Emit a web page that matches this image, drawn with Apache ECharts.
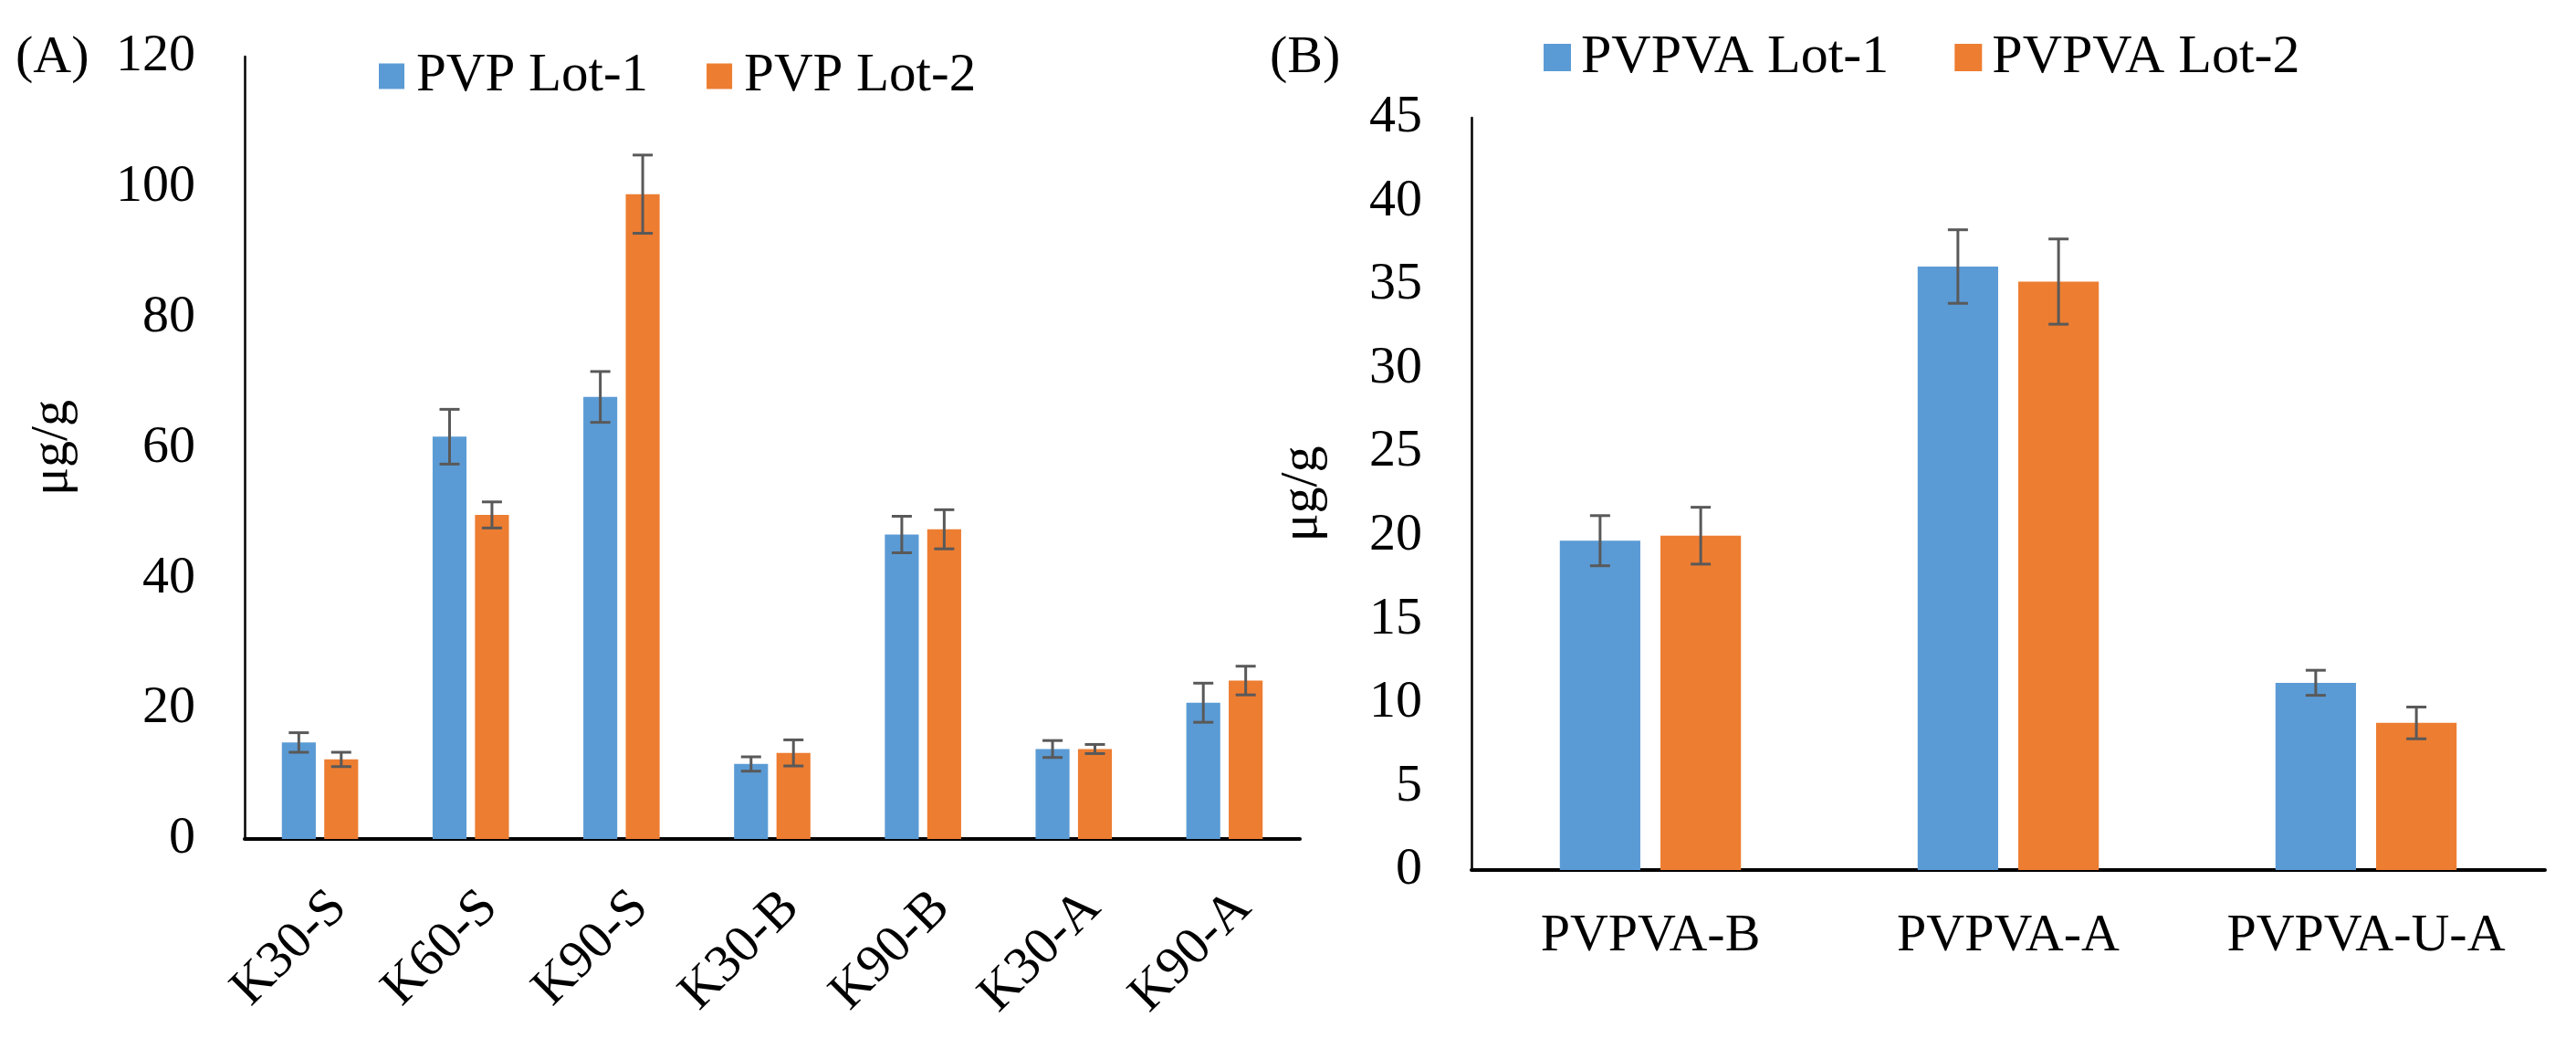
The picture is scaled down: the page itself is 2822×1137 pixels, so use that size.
<!DOCTYPE html>
<html>
<head>
<meta charset="utf-8">
<script src="https://cdn.jsdelivr.net/npm/echarts@6/dist/echarts.min.js"></script>
<style>
  html, body { margin: 0; padding: 0; background: #fff; }
  #chart { width: 2822px; height: 1137px; }
</style>
</head>
<body>
<div id="chart"></div>
<script>
// panel A data (PVP)
var categoriesA = ['K30-S', 'K60-S', 'K90-S', 'K30-B', 'K90-B', 'K30-A', 'K90-A'];
var lot1A = [14.8, 61.7, 67.8, 11.5, 46.7, 13.8, 20.9];
var lot2A = [12.2, 49.7, 98.9, 13.2, 47.5, 13.8, 24.3];
var err1A = [1.5, 4.2, 3.9, 1.1, 2.8, 1.3, 3.0];
var err2A = [1.1, 2.0, 6.0, 2.0, 3.0, 0.7, 2.2];

// panel B data (PVPVA)
var categoriesB = ['PVPVA-B', 'PVPVA-A', 'PVPVA-U-A'];
var lot1B = [19.7, 36.1, 11.2];
var lot2B = [20.0, 35.2, 8.8];
var err1B = [1.5, 2.2, 0.75];
var err2B = [1.7, 2.55, 0.95];

var BLUE = '#5B9BD5';
var ORANGE = '#ED7D31';
var FONT = '"Liberation Serif", "Times New Roman", serif';
var BAR_W = 0.225;   // fraction of category band
var BAR_GAP = 0.25;  // fraction of bar width

// error bar drawn through the axes, shifted to its bar (side = -1 / +1)
function errorSeries(name, axisIdx, values, errs, side) {
    var data = values.map(function (v, i) { return [i, v - errs[i], v + errs[i]]; });
    return {
        name: name,
        type: 'custom',
        xAxisIndex: axisIdx,
        yAxisIndex: axisIdx,
        z: 10,
        silent: true,
        renderItem: function (params, api) {
            var band = api.size([1, 0])[0];
            var bw = band * BAR_W;
            var shift = side * (bw + bw * BAR_GAP) / 2;
            var lo = api.coord([api.value(0), api.value(1)]);
            var hi = api.coord([api.value(0), api.value(2)]);
            var x = lo[0] + shift;
            var cap = 11;
            var st = { stroke: '#595959', lineWidth: 3 };
            return {
                type: 'group',
                children: [
                    { type: 'line', shape: { x1: x, y1: hi[1], x2: x, y2: lo[1] }, style: st },
                    { type: 'line', shape: { x1: x - cap, y1: hi[1], x2: x + cap, y2: hi[1] }, style: st },
                    { type: 'line', shape: { x1: x - cap, y1: lo[1], x2: x + cap, y2: lo[1] }, style: st }
                ]
            };
        },
        data: data
    };
}

function barSeries(name, axisIdx, values, color) {
    return {
        name: name,
        type: 'bar',
        xAxisIndex: axisIdx,
        yAxisIndex: axisIdx,
        data: values,
        barWidth: (BAR_W * 100) + '%',
        barGap: (BAR_GAP * 100) + '%',
        itemStyle: { color: color }
    };
}

function yAxis(idx, max, interval, gap) {
    return {
        type: 'value',
        gridIndex: idx,
        min: 0,
        max: max,
        interval: interval,
        name: 'μg/g',
        nameLocation: 'middle',
        nameGap: gap,
        nameRotate: 90,
        nameTextStyle: { fontFamily: FONT, fontSize: 58, color: '#000' },
        axisLine: { show: true, lineStyle: { color: '#000', width: 2.5 } },
        axisTick: { show: false },
        splitLine: { show: false },
        axisLabel: { fontFamily: FONT, fontSize: 58, color: '#000', margin: 54 }
    };
}

var chart = echarts.init(document.getElementById('chart'));
var option = {
    backgroundColor: '#fff',
    animation: false,
    title: [
        { text: '(A)', left: 12, top: 30, textStyle: { fontFamily: FONT, fontSize: 58, fontWeight: 'normal', color: '#000' } },
        { text: '(B)', left: 1386, top: 30, textStyle: { fontFamily: FONT, fontSize: 58, fontWeight: 'normal', color: '#000' } }
    ],
    legend: [
        {
            data: ['PVP Lot-1', 'PVP Lot-2'],
            left: 410, top: 49,
            icon: 'rect', itemWidth: 28, itemHeight: 28, itemGap: 64,
            textStyle: { fontFamily: FONT, fontSize: 59, color: '#000', padding: [0, 0, 0, 8] }
        },
        {
            data: ['PVPVA Lot-1', 'PVPVA Lot-2'],
            left: 1686, top: 28,
            icon: 'rect', itemWidth: 30, itemHeight: 30, itemGap: 72,
            textStyle: { fontFamily: FONT, fontSize: 60, color: '#000', padding: [0, 0, 0, 6] }
        }
    ],
    grid: [
        { left: 268, top: 62, width: 1156, height: 857 },
        { left: 1612, top: 129, width: 1176, height: 824 }
    ],
    xAxis: [
        {
            type: 'category', gridIndex: 0, data: categoriesA,
            axisLine: { lineStyle: { color: '#000', width: 4 } },
            axisTick: { show: false },
            axisLabel: {
                fontFamily: FONT, fontSize: 58, color: '#000', rotate: 45,
                margin: 46, interval: 0, verticalAlign: 'top'
            }
        },
        {
            type: 'category', gridIndex: 1, data: categoriesB,
            axisLine: { lineStyle: { color: '#000', width: 4 } },
            axisTick: { show: false },
            axisLabel: { fontFamily: FONT, fontSize: 58, color: '#000', margin: 44, interval: 0 }
        }
    ],
    yAxis: [
        yAxis(0, 120, 20, 181),
        yAxis(1, 45, 5, 156)
    ],
    series: [
        barSeries('PVP Lot-1', 0, lot1A, BLUE),
        barSeries('PVP Lot-2', 0, lot2A, ORANGE),
        errorSeries('err1A', 0, lot1A, err1A, -1),
        errorSeries('err2A', 0, lot2A, err2A, 1),
        barSeries('PVPVA Lot-1', 1, lot1B, BLUE),
        barSeries('PVPVA Lot-2', 1, lot2B, ORANGE),
        errorSeries('err1B', 1, lot1B, err1B, -1),
        errorSeries('err2B', 1, lot2B, err2B, 1)
    ]
};
chart.setOption(option);

window.addEventListener('resize', function () {
    chart.resize();
});
</script>
</body>
</html>
